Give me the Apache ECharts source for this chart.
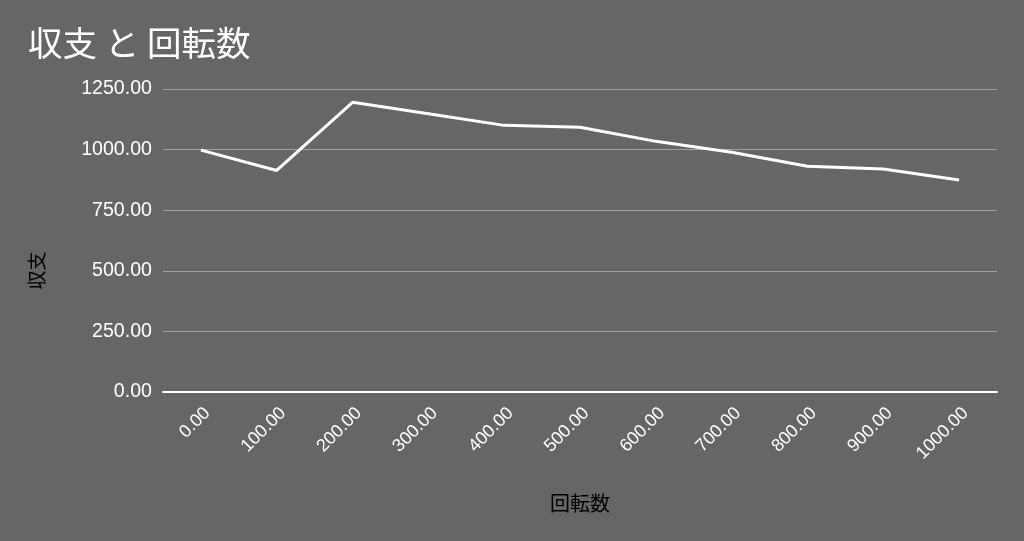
<!DOCTYPE html>
<html>
<head>
<meta charset="utf-8">
<script src="https://cdn.jsdelivr.net/npm/echarts@6/dist/echarts.min.js"></script>
<style>
html,body{margin:0;padding:0;background:#666666;}
#c{width:1024px;height:541px;}
</style>
</head>
<body>
<div id="c"></div>
<script>
const categories = ['0.00','100.00','200.00','300.00','400.00','500.00','600.00','700.00','800.00','900.00','1000.00'];
const values = [998, 914, 1195, 1148, 1100, 1092, 1034, 989, 931, 920, 875];
const yTicks = { min: 0, max: 1250, interval: 250 };
const titleText = '収支 と 回転数';
const xName = '回転数';
const yName = '収支';

const font = '"Liberation Sans", Arial, "Noto Sans CJK JP", sans-serif';
const cjk = '"Noto Sans CJK JP", sans-serif';
const chart = echarts.init(document.getElementById('c'));
chart.setOption({
  backgroundColor: '#666666',
  animation: false,
  title: {
    text: titleText, left: 23, top: 21,
    textStyle: { color: '#ffffff', fontSize: 34.5, fontWeight: 'normal', fontFamily: cjk }
  },
  grid: { left: 163, right: 27, top: 89, bottom: 149 },
  xAxis: {
    type: 'category', data: categories, boundaryGap: true,
    name: xName, nameLocation: 'middle', nameGap: 101,
    nameTextStyle: { color: '#000000', fontSize: 20, fontFamily: cjk },
    axisLine: { lineStyle: { color: '#ffffff', width: 2 } },
    axisTick: { show: false },
    axisLabel: { color: '#ffffff', fontSize: 18, rotate: 45, fontFamily: font, margin: 12, interval: 0, verticalAlign: 'top' }
  },
  yAxis: {
    type: 'value', min: yTicks.min, max: yTicks.max, interval: yTicks.interval,
    name: yName, nameLocation: 'middle', nameGap: 117,
    nameTextStyle: { color: '#000000', fontSize: 19, fontFamily: cjk, padding: [0, 60, 0, 0] },
    axisLine: { show: false }, axisTick: { show: false },
    axisLabel: { color: '#ffffff', fontSize: 19.6, fontFamily: font, margin: 11,
      formatter: v => v.toFixed(2) },
    splitLine: { lineStyle: { color: '#a0a0a0', width: 1 } }
  },
  series: [{
    type: 'line', data: values, showSymbol: false, symbol: 'none',
    lineStyle: { color: '#ffffff', width: 3 }
  }]
});
</script>
</body>
</html>
